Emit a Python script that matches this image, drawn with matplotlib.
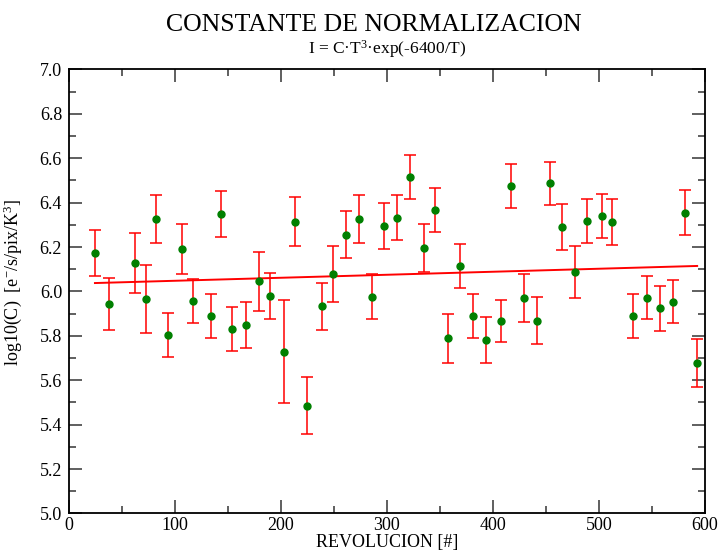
import numpy as np
import matplotlib
matplotlib.use('Agg')
import matplotlib.pyplot as plt
from matplotlib.ticker import MultipleLocator

plt.rcParams['font.family'] = ['Liberation Serif', 'DejaVu Serif']
plt.rcParams['mathtext.fontset'] = 'custom'
plt.rcParams['mathtext.rm'] = 'Liberation Serif'
plt.rcParams['mathtext.default'] = 'regular'

# revolucion, log10(C), error
rev = [24.5, 38, 62, 72.6, 81.8, 93.7, 106.9, 116.7, 133.7, 143.7,
       153.8, 166.7, 179, 189.6, 202.5, 213.5, 224.5, 238.7, 249.4, 261.3,
       273.3, 285.5, 297.2, 309.1, 321.4, 334.6, 345, 357.3, 368.9, 381.1,
       393.1, 407.8, 417, 429, 441.2, 453.8, 465.1, 477, 489, 502.8,
       512, 532.4, 545, 557.5, 569.5, 580.8, 592.7]
logc = [6.175, 5.944, 6.128, 5.968, 6.325, 5.804, 6.193, 5.957, 5.890, 6.349,
        5.830, 5.848, 6.046, 5.980, 5.729, 6.315, 5.486, 5.933, 6.080, 6.256,
        6.327, 5.977, 6.295, 6.332, 6.516, 6.197, 6.367, 5.790, 6.115, 5.890,
        5.781, 5.868, 6.475, 5.971, 5.868, 6.487, 6.289, 6.088, 6.316, 6.341,
        6.312, 5.888, 5.971, 5.924, 5.953, 6.355, 5.677]
err = [0.103, 0.118, 0.135, 0.153, 0.108, 0.100, 0.112, 0.100, 0.098, 0.103,
       0.100, 0.104, 0.133, 0.105, 0.233, 0.110, 0.130, 0.105, 0.127, 0.105,
       0.109, 0.100, 0.103, 0.102, 0.100, 0.107, 0.100, 0.110, 0.100, 0.100,
       0.104, 0.095, 0.100, 0.107, 0.105, 0.098, 0.104, 0.117, 0.099, 0.098,
       0.104, 0.099, 0.097, 0.102, 0.097, 0.101, 0.107]

# ajuste lineal
fit_a = 6.0347
fit_b = 1.355e-4

fig = plt.figure(figsize=(7.2, 5.55), dpi=100)
ax = fig.add_axes([0.0958, 0.0748, 0.8832, 0.8])

ax.errorbar(rev, logc, yerr=err, fmt='none', ecolor='#ff0000', elinewidth=1.1,
            capsize=4, capthick=1.1, zorder=2)
xl = np.array([rev[0], rev[-1]])
ax.plot(xl, fit_a + fit_b*xl, color='#ff0000', lw=1.4, zorder=3)
ax.plot(rev, logc, 'o', color='#008000', ms=5, mec='#008000', zorder=4)

ax.set_xlim(0, 600)
ax.set_ylim(5.0, 7.0)
ax.xaxis.set_major_locator(MultipleLocator(100))
ax.xaxis.set_minor_locator(MultipleLocator(50))
ax.yaxis.set_major_locator(MultipleLocator(0.2))
ax.yaxis.set_minor_locator(MultipleLocator(0.1))
ax.yaxis.set_major_formatter(matplotlib.ticker.FormatStrFormatter('%.1f'))
ax.tick_params(which='both', direction='in', top=True, right=True, labelsize=13, color='#444444')
ax.tick_params(which='major', length=9.5, width=1.2)
ax.tick_params(which='minor', length=5, width=1.2)
ax.tick_params(axis='x', which='major', pad=2.5)
ax.tick_params(axis='y', which='major', pad=5)
for s in ax.spines.values():
    s.set_linewidth(1.3)

ax.set_xlabel('REVOLUCION [#]', fontsize=13, labelpad=0)
ax.set_ylabel('log10(C)  [e$^{-}$/s/pix/K$^{3}$]', fontsize=13, labelpad=4)
ax.yaxis.set_label_coords(-0.07, 0.52)

fig.text(0.519, 0.955, 'CONSTANTE DE NORMALIZACION', ha='center', va='center', fontsize=18.5)
fig.text(0.538, 0.912, 'I = C·T$^{3}$·exp(-6400/T)', ha='center', va='center', fontsize=12.5)

fig.savefig('out.png', dpi=100)
